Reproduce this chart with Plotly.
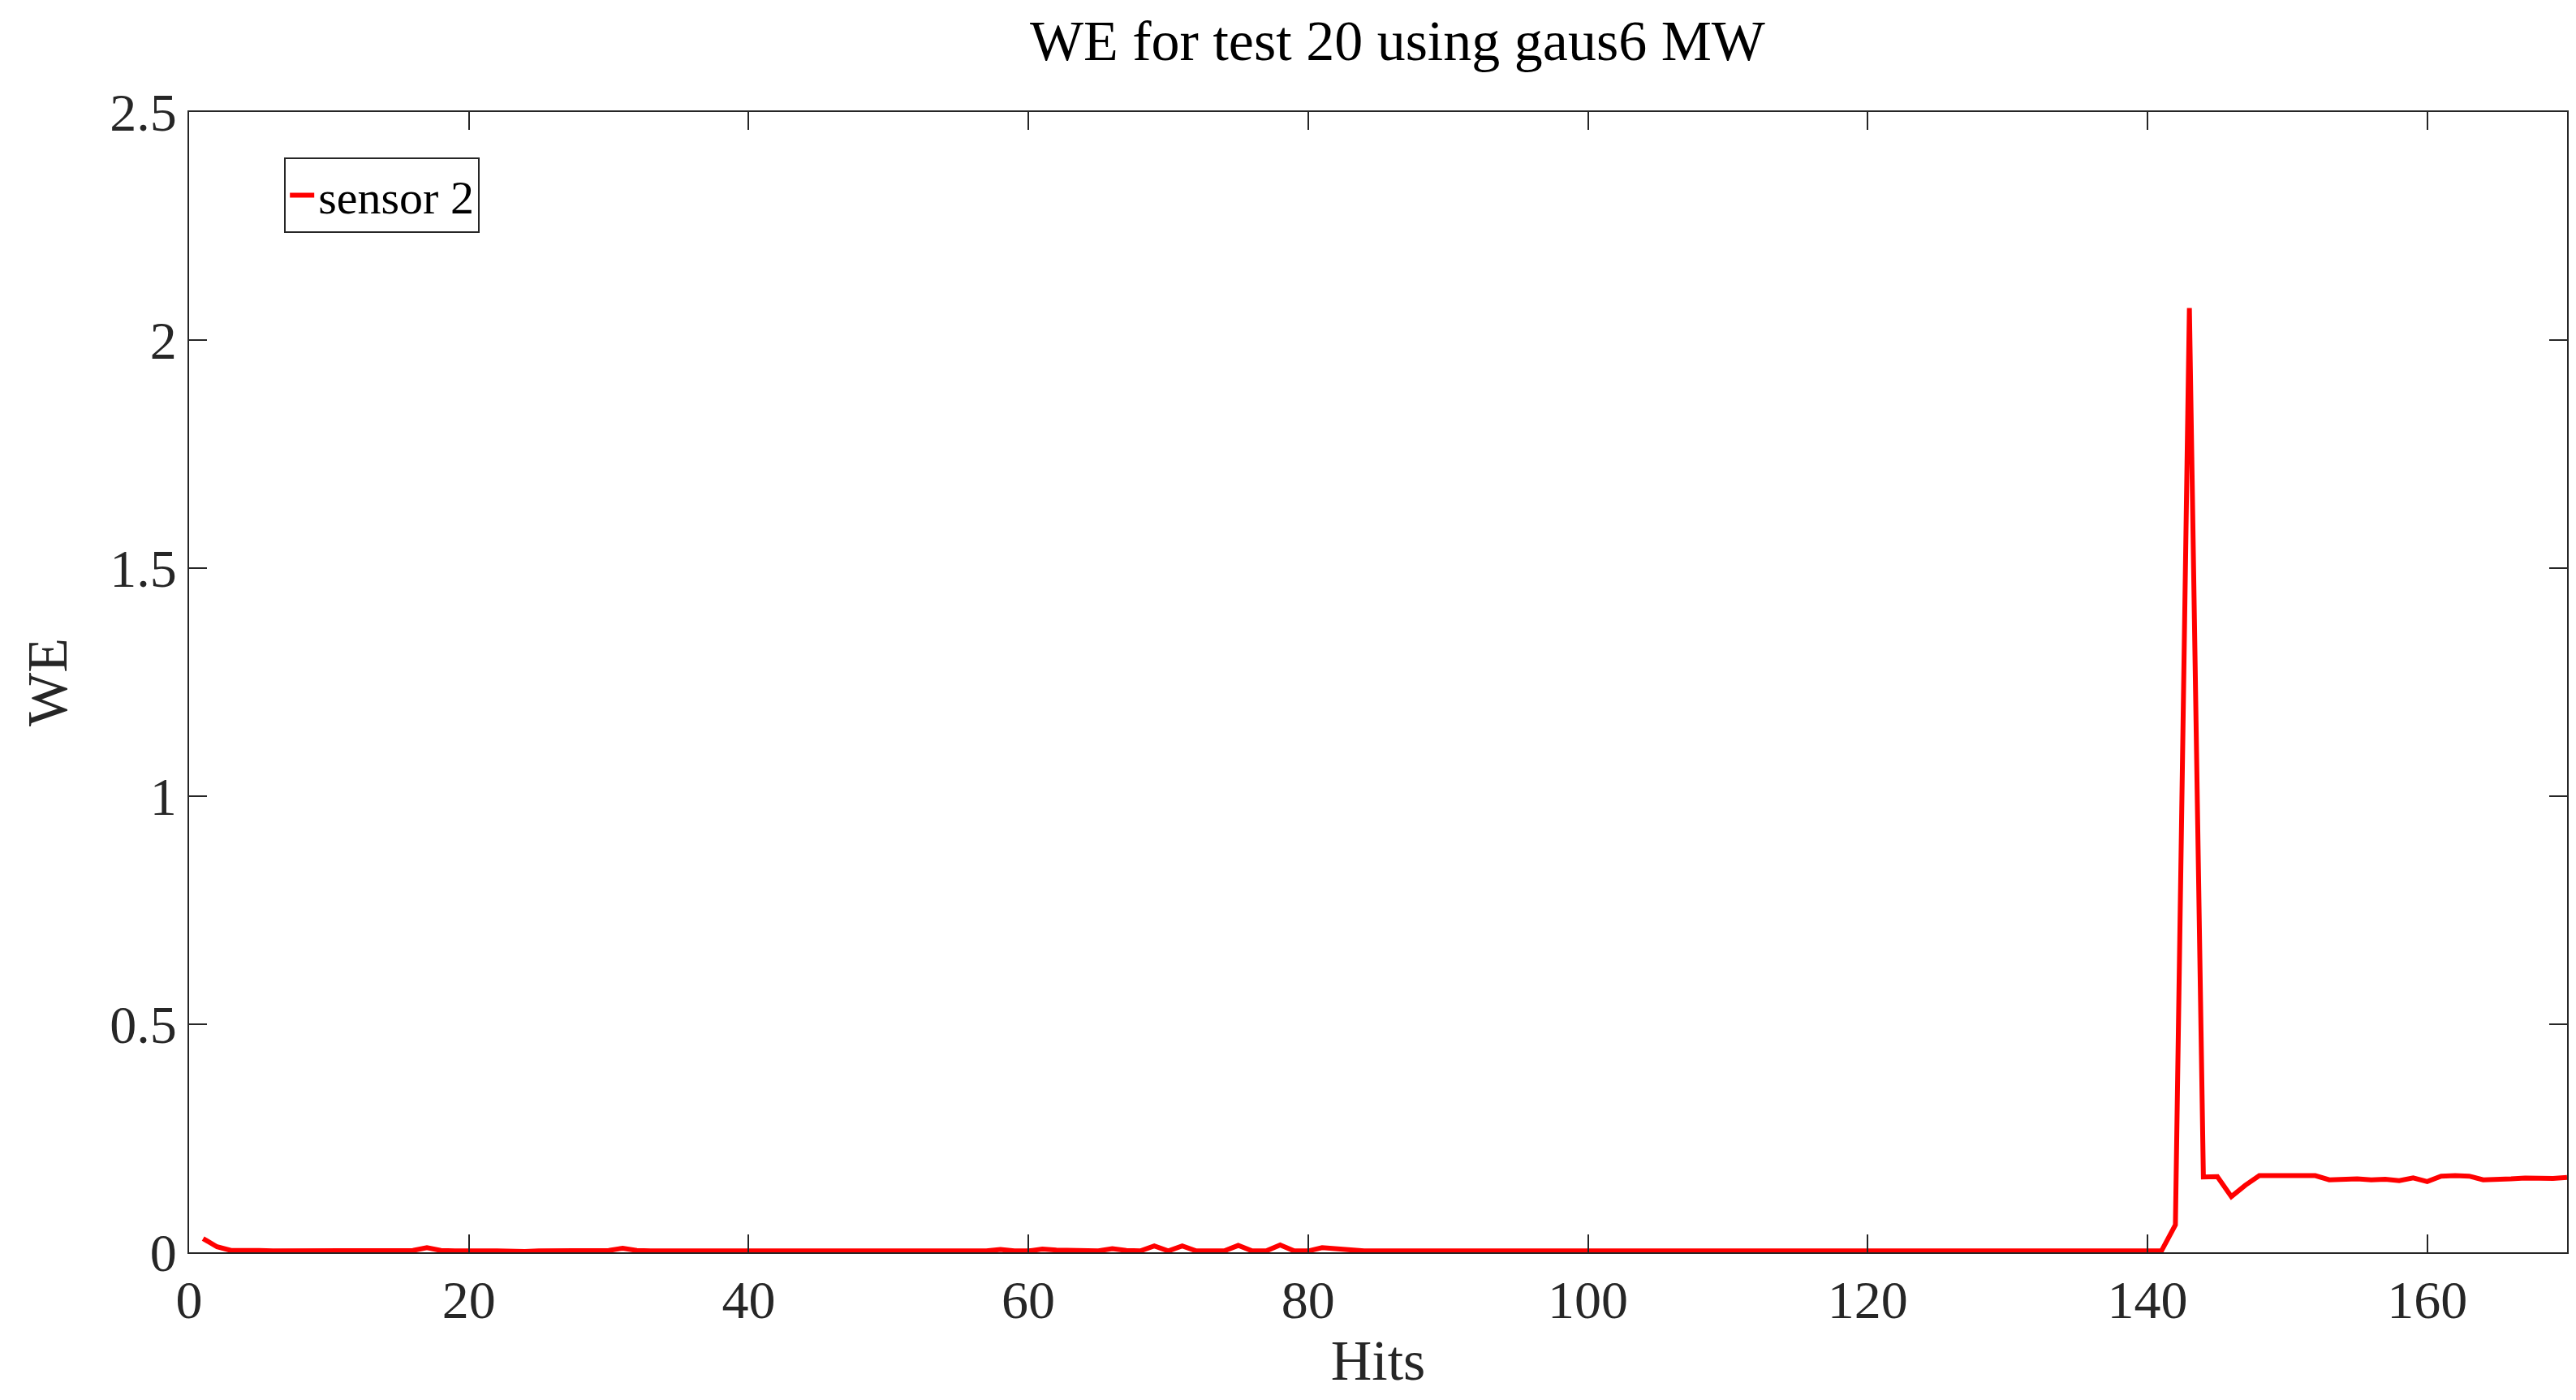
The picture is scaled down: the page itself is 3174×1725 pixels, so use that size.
import plotly.graph_objects as go

hits = list(range(1, 171))
we_low = [0.03, 0.012, 0.004, 0.005, 0.004, 0.003, 0.003, 0.003, 0.004, 0.004,
          0.004, 0.004, 0.003, 0.003, 0.003, 0.004, 0.010, 0.004, 0.003, 0.004,
          0.003, 0.003, 0.002, 0.002, 0.003, 0.003, 0.003, 0.003, 0.003, 0.004,
          0.009, 0.004, 0.003, 0.003, 0.004, 0.003, 0.003, 0.003, 0.004, 0.003,
          0.003, 0.003, 0.003, 0.004, 0.003, 0.003, 0.003, 0.002, 0.003, 0.003,
          0.003, 0.003, 0.003, 0.003, 0.003, 0.003, 0.003, 0.006, 0.003, 0.003,
          0.007, 0.005, 0.004, 0.003, 0.003, 0.008, 0.004, 0.003, 0.014, 0.003,
          0.014, 0.003, 0.003, 0.003, 0.015, 0.003, 0.003, 0.016, 0.003, 0.003,
          0.010, 0.007, 0.004, 0.003, 0.003, 0.003, 0.003, 0.003, 0.002, 0.002,
          0.003, 0.003, 0.003, 0.003, 0.003, 0.003, 0.003, 0.003, 0.003, 0.003,
          0.004, 0.003, 0.003, 0.003, 0.003, 0.004, 0.003, 0.003, 0.003, 0.003,
          0.003, 0.003, 0.003, 0.003, 0.003, 0.003, 0.003, 0.003, 0.003, 0.003,
          0.003, 0.003, 0.003, 0.003, 0.003, 0.003, 0.003, 0.003, 0.003, 0.003,
          0.003, 0.003, 0.003, 0.003, 0.003, 0.003, 0.003, 0.003, 0.003, 0.003,
          0.003]
we_high = [0.06, 2.07, 0.165, 0.166, 0.122, 0.147, 0.168, 0.168, 0.167, 0.167,
           0.168, 0.159, 0.160, 0.161, 0.159, 0.160, 0.157, 0.163, 0.155, 0.167,
           0.168, 0.167, 0.159, 0.159, 0.161, 0.163, 0.162, 0.162, 0.164]
we = we_low + we_high

font = "Liberation Serif, Times New Roman, serif"

fig = go.Figure(go.Scatter(
    x=hits, y=we, mode="lines", name="sensor 2",
    line=dict(color="#ff0000", width=6),
))

axis = dict(
    showgrid=False, zeroline=False, showline=True, mirror="allticks",
    linecolor="#262626", linewidth=2, ticks="inside", ticklen=22,
    tickwidth=2, tickcolor="#262626",
    tickfont=dict(size=66, color="#262626", family=font),
)

fig.update_layout(
    width=3174, height=1725,
    paper_bgcolor="white", plot_bgcolor="white",
    margin=dict(l=225, r=19, t=130, b=190),
    title=dict(text="WE for test 20 using gaus6 MW", x=0.54, xanchor="center",
               y=0.99, yanchor="top",
               font=dict(size=70, color="black", family=font)),
    xaxis=dict(axis, range=[0, 170], dtick=20,
               title=dict(text="Hits", standoff=10,
                          font=dict(size=70, color="#262626", family=font))),
    yaxis=dict(axis, range=[0, 2.5], dtick=0.5,
               title=dict(text="WE", standoff=30,
                          font=dict(size=70, color="#262626", family=font))),
    showlegend=True,
    legend=dict(x=0.04, y=0.96, xanchor="left", yanchor="top",
                bgcolor="white", bordercolor="#262626", borderwidth=2,
                font=dict(size=58, color="black", family=font)),
)

fig.write_html("out.html")
